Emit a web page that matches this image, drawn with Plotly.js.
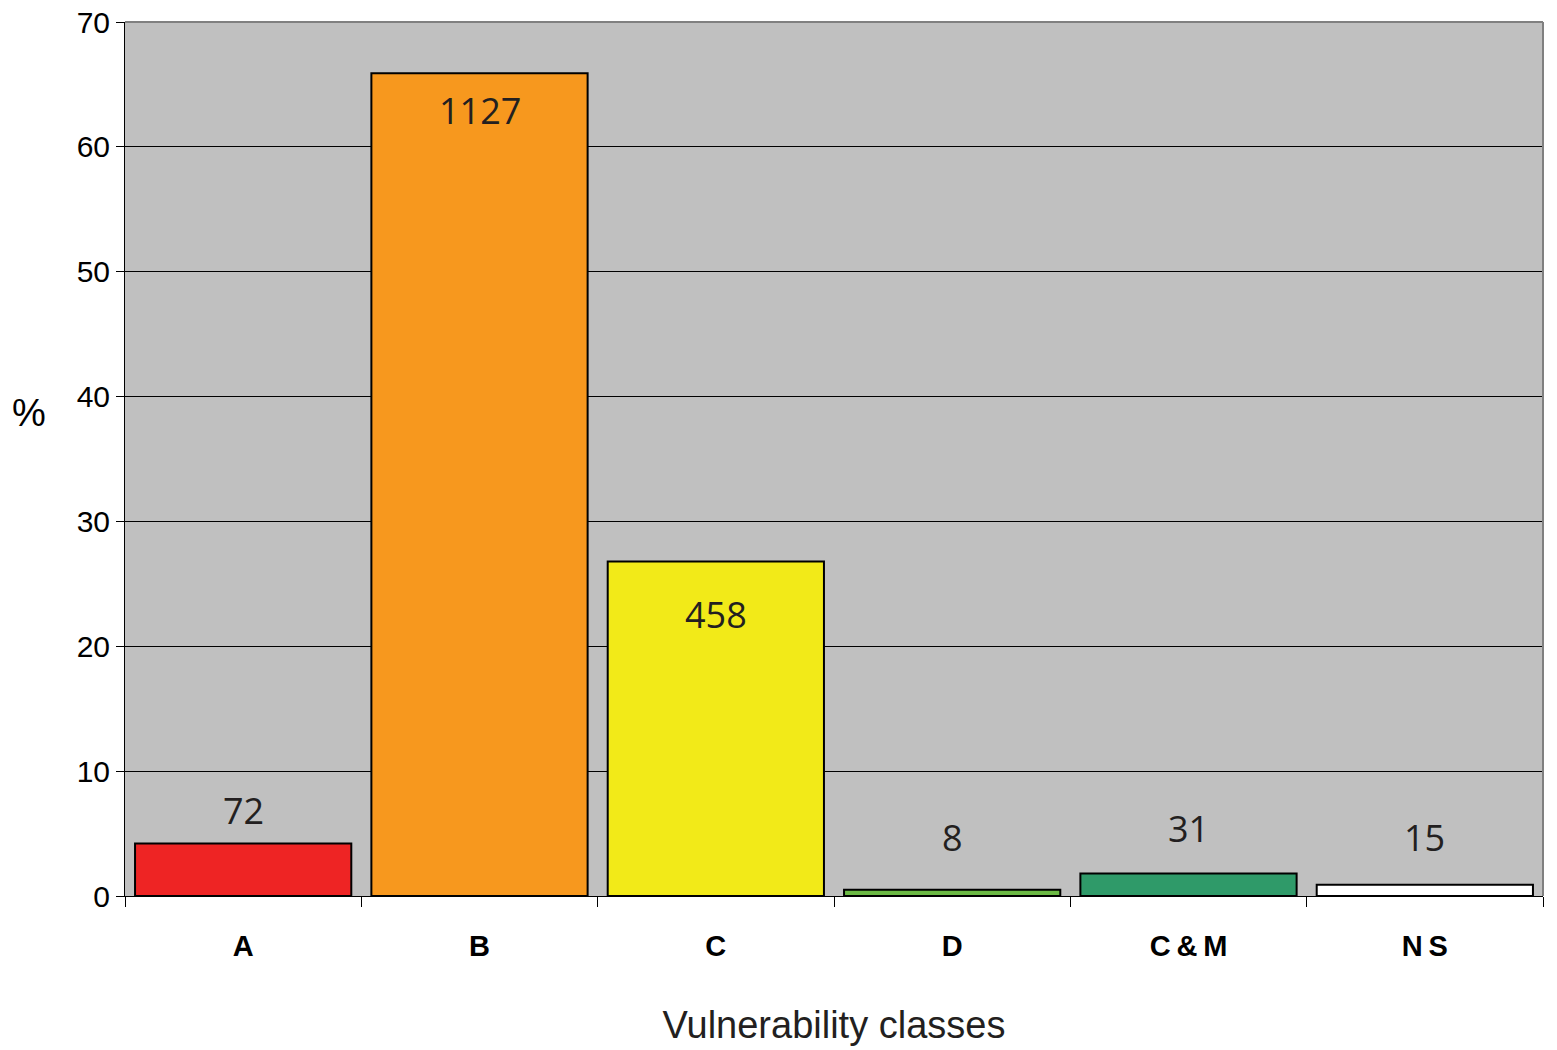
<!DOCTYPE html>
<html>
<head>
<meta charset="utf-8">
<script src="https://cdn.plot.ly/plotly-3.0.1.min.js"></script>
<style>html,body{margin:0;padding:0;background:#fff;}#chart{width:1557px;height:1050px;}</style>
</head>
<body>
<div id="chart"></div>
<script>
// Data
const categories = ["A", "B", "C", "D", "C&M", "NS"];
const tickLabels = ["A", "B", "C", "D", "C\u2009&\u2009M", "N\u2009S"];
const percentValues = [4.2, 65.9, 26.8, 0.5, 1.8, 0.9];
const counts = [72, 1127, 458, 8, 31, 15];

// Styles
const barColors = ["#ee2424", "#f7981e", "#f2ea18", "#6bb944", "#2f9a69", "#ffffff"];
const labelShift = [33, -37, -53, 52, 45, 47];

const trace = {
  type: "bar",
  x: categories,
  y: percentValues,
  marker: { color: barColors, line: { color: "#000", width: 2 } },
  hoverinfo: "skip"
};

const annotations = categories.map((c, i) => ({
  x: c, y: percentValues[i], xref: "x", yref: "y",
  text: String(counts[i]), showarrow: false,
  yanchor: "middle", yshift: labelShift[i],
  font: { family: "Open Sans, Noto Sans, sans-serif", size: 36, color: "#231f20" }
}));

annotations.push({
  text: "%", xref: "paper", yref: "paper", x: -0.068, y: 0.553,
  xanchor: "center", yanchor: "middle", showarrow: false,
  font: { family: "Liberation Sans, Arial, sans-serif", size: 38, color: "#000" }
});

const layout = {
  width: 1557, height: 1050,
  margin: { l: 125, r: 14, t: 22, b: 154 },
  paper_bgcolor: "#fff",
  plot_bgcolor: "#c0c0c0",
  bargap: 0.085,
  showlegend: false,
  xaxis: {
    type: "category",
    tickvals: categories, ticktext: tickLabels,
    ticks: "outside", tickson: "boundaries", ticklen: 10, tickcolor: "#000", tickwidth: 1,
    ticklabelstandoff: 24,
    showline: true, linecolor: "#000", linewidth: 1, mirror: false,
    tickfont: { family: "Liberation Sans, Arial, sans-serif", size: 29, color: "#000", weight: "bold" },
    title: { text: "Vulnerability classes", standoff: 50,
      font: { family: "Liberation Sans, Arial, sans-serif", size: 38, color: "#231f20" } },
    showgrid: false, fixedrange: true
  },
  yaxis: {
    range: [0, 70], dtick: 10, tick0: 0,
    ticks: "outside", ticklen: 8, tickcolor: "#000", tickwidth: 1,
    showline: true, linecolor: "#000", linewidth: 1,
    showgrid: true, gridcolor: "#000", gridwidth: 1,
    zeroline: false,
    tickfont: { family: "Liberation Sans, Arial, sans-serif", size: 30, color: "#000" },
    fixedrange: true
  },
  shapes: [
    { type: "line", xref: "paper", yref: "paper", x0: 0, x1: 1, y0: 1, y1: 1, line: { color: "#808080", width: 2 } },
    { type: "line", xref: "paper", yref: "paper", x0: 1, x1: 1, y0: 0, y1: 1, line: { color: "#808080", width: 2 } }
  ],
  annotations: annotations
};

Plotly.newPlot("chart", [trace], layout, { displayModeBar: false, staticPlot: true });
</script>
</body>
</html>
